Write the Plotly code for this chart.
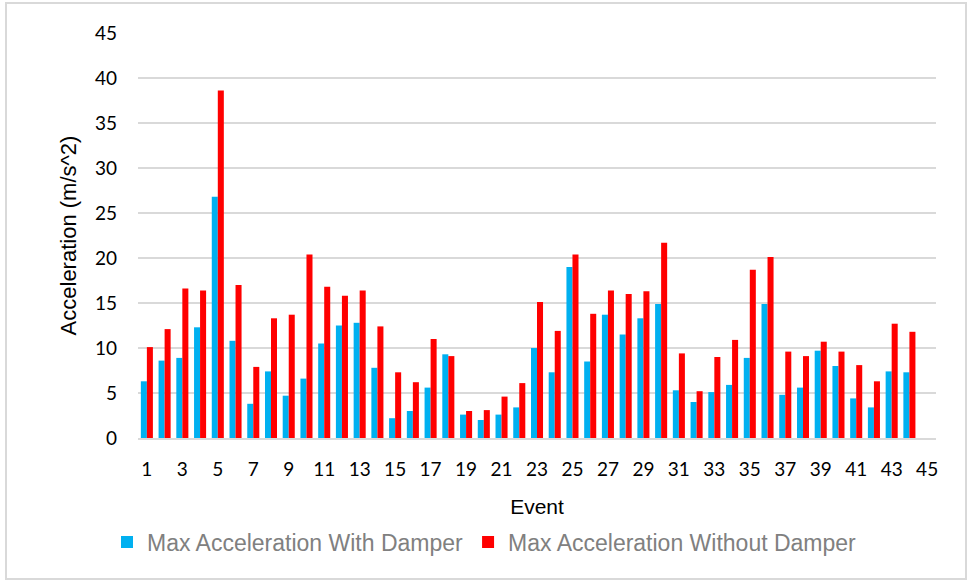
import plotly.graph_objects as go

# Events 1..45 (event 45 has no recorded data)
events = [str(i) for i in range(1, 46)]

with_damper = [6.3, 8.6, 8.9, 12.3, 26.8, 10.8, 3.8, 7.4, 4.7, 6.6,
               10.5, 12.5, 12.8, 7.8, 2.2, 3.0, 5.6, 9.3, 2.6, 2.0,
               2.6, 3.4, 10.0, 7.3, 19.0, 8.5, 13.7, 11.5, 13.3, 14.9,
               5.3, 4.0, 5.1, 5.9, 8.9, 14.9, 4.8, 5.6, 9.7, 8.0,
               4.4, 3.4, 7.4, 7.3, None]

without_damper = [10.1, 12.1, 16.6, 16.4, 38.6, 17.0, 7.9, 13.3, 13.7, 20.4,
                  16.8, 15.8, 16.4, 12.4, 7.3, 6.2, 11.0, 9.1, 3.0, 3.1,
                  4.6, 6.1, 15.1, 11.9, 20.4, 13.8, 16.4, 16.0, 16.3, 21.7,
                  9.4, 5.2, 9.0, 10.9, 18.7, 20.1, 9.6, 9.1, 10.7, 9.6,
                  8.1, 6.3, 12.7, 11.8, None]

y_ticks = list(range(0, 50, 5))
x_tick_labels = [str(i) for i in range(1, 46, 2)]

W, H = 969, 581
L, R, T, B = 138, 33, 33, 143

fig = go.Figure()
fig.add_trace(go.Bar(x=events, y=with_damper, name="Max Acceleration With Damper",
                     marker=dict(color="#00B0F0", line=dict(width=0))))
fig.add_trace(go.Bar(x=events, y=without_damper, name="Max Acceleration Without Damper",
                     marker=dict(color="#FF0000", line=dict(width=0))))

pw, ph = W - L - R, H - T - B
# light outer frame around the whole chart
fig.add_shape(type="rect", xref="paper", yref="paper",
              x0=(6 - L) / pw, x1=(966 - L) / pw,
              y0=(H - B - 579) / ph, y1=(H - B - 3) / ph,
              line=dict(color="#D9D9D9", width=2), fillcolor="rgba(0,0,0,0)", layer="below")

fig.update_layout(
    width=W, height=H,
    margin=dict(l=L, r=R, t=T, b=B, autoexpand=False),
    paper_bgcolor="white", plot_bgcolor="white",
    barmode="group", bargap=0.32, bargroupgap=0.0,
    font=dict(family="Lato", color="black"),
    showlegend=True,
    legend=dict(orientation="h", xref="container", yref="container",
                x=0.5, xanchor="center", y=(H - 542) / H, yanchor="middle",
                font=dict(family="Liberation Sans", size=23, color="#808080"),
                itemwidth=30, tracegroupgap=0),
    xaxis=dict(
        type="category", automargin=False,
        tickmode="array", tickvals=x_tick_labels, ticktext=x_tick_labels,
        tickfont=dict(family="Lato", size=19, color="black"),
        ticks="", ticklabelstandoff=13,
        showgrid=False, showline=True, linecolor="#D9D9D9", linewidth=2,
        title=dict(text="Event", font=dict(family="Liberation Sans", size=21, color="black"), standoff=21),
    ),
    yaxis=dict(
        range=[0, 45], tickvals=y_ticks, ticktext=[str(v) for v in y_ticks],
        automargin=False,
        tickfont=dict(family="Lato", size=19, color="black"),
        ticks="", ticklabelstandoff=20,
        showgrid=True, gridcolor="#D9D9D9", gridwidth=2,
        zeroline=False, showline=False,
        title=dict(text="Acceleration (m/s^2)", font=dict(family="Liberation Sans", size=22, color="black"), standoff=12),
    ),
)

fig.write_html("out.html")
